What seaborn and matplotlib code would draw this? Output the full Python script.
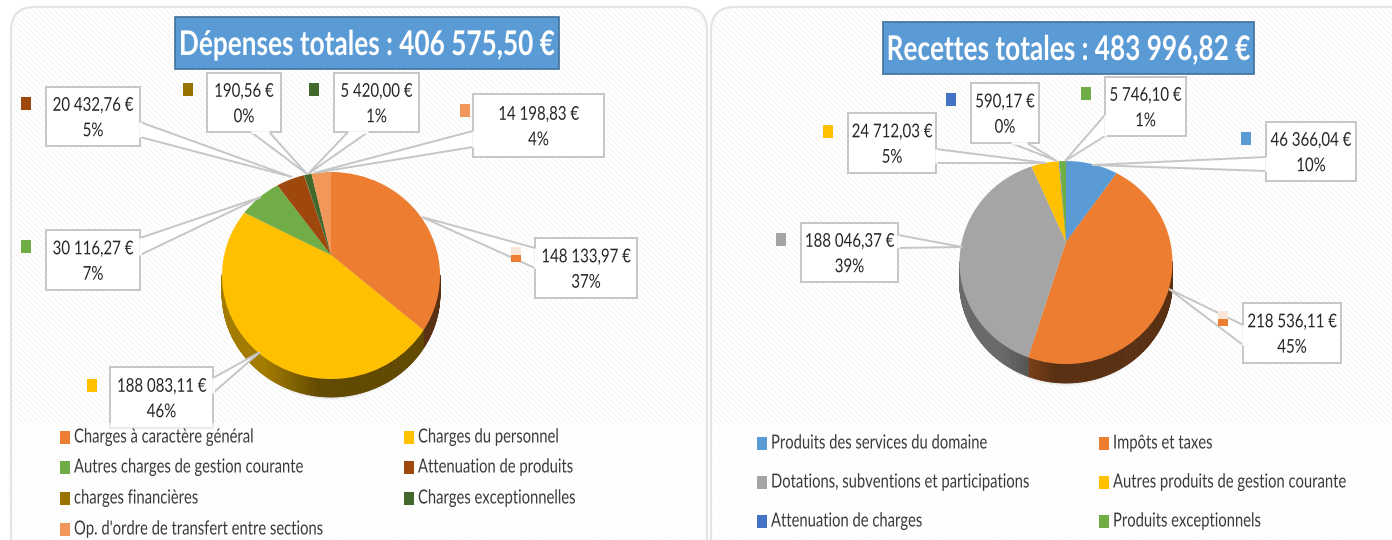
import numpy as np
import matplotlib
matplotlib.use("Agg")
import matplotlib.pyplot as plt
import seaborn as sns
from matplotlib.collections import PolyCollection
from matplotlib.patches import FancyBboxPatch, Polygon, Rectangle, Ellipse
from matplotlib.patheffects import AbstractPathEffect
from matplotlib.text import Text
from matplotlib.transforms import Affine2D, Bbox, Transform
from matplotlib.colors import to_rgb

# ---------- data ----------
dep_title = "Dépenses totales : 406 575,50 €"
dep_categories = ["Charges à caractère général", "Charges du personnel",
                  "Autres charges de gestion courante", "Attenuation de produits",
                  "charges financières", "Charges exceptionnelles",
                  "Op. d'ordre de transfert entre sections"]
dep_values = [148133.97, 188083.11, 30116.27, 20432.76, 190.56, 5420.00, 14198.83]
dep_percent = ["37%", "46%", "7%", "5%", "0%", "1%", "4%"]
dep_colors = ["#ED7D31", "#FFC000", "#70AD47", "#9E480E", "#997300", "#43682B", "#F1975A"]

rec_title = "Recettes totales : 483 996,82 €"
rec_categories = ["Produits des services du domaine", "Impôts et taxes",
                  "Dotations, subventions et participations", "Autres produits de gestion courante",
                  "Attenuation de charges", "Produits exceptionnels"]
rec_values = [46366.04, 218536.11, 188046.37, 24712.03, 590.17, 5746.10]
rec_percent = ["10%", "45%", "39%", "5%", "0%", "1%"]
rec_colors = ["#5B9BD5", "#ED7D31", "#A5A5A5", "#FFC000", "#4472C4", "#70AD47"]

# ---------- layout (pixels) ----------
W, H = 1392, 540
# box x0, x1, y0, y1 ; callout base a, base b, tip ; colour key position
dep_boxes = [
    ((535, 637, 238, 298), (535, 248), (535, 268), (422, 217), (516, 255)),
    ((110, 213, 367, 428), (213, 378), (213, 393), (260, 352), (92, 385)),
    ((46, 140, 230, 290), (140, 238), (140, 255), (261, 197), (26, 246)),
    ((46, 140, 87, 146), (140, 122), (140, 137), (292, 177), (26, 103)),
    ((207, 281, 73, 132), (251, 132), (269, 132), (307, 174), (188, 89)),
    ((334, 419, 73, 132), (348, 132), (368, 132), (308, 174), (314, 89)),
    ((473, 604, 94, 157), (473, 131), (473, 147), (314, 173), (465, 110)),
]
rec_boxes = [
    ((1266, 1356, 122, 181), (1266, 157), (1266, 171), (1092, 165), (1246, 138)),
    ((1243, 1341, 303, 363), (1243, 325), (1243, 345), (1169, 289), (1223, 319)),
    ((801, 898, 223, 282), (898, 235), (898, 248), (962, 247), (781, 239)),
    ((848, 936, 113, 173), (936, 149), (936, 163), (1046, 163), (828, 131)),
    ((971, 1039, 83, 143), (1011, 143), (1027, 143), (1057, 161), (951, 99)),
    ((1105, 1186, 77, 136), (1105, 115), (1105, 136), (1065, 161), (1086, 93)),
]
dep_pale_keys = [0]
rec_pale_keys = [1]

sns.set_theme(style="white")
plt.rcParams["font.family"] = ["Lato", "Open Sans", "DejaVu Sans"]
plt.rcParams["hatch.linewidth"] = 0.5
sns.set_palette(sns.color_palette(dep_colors))

fig = plt.figure(figsize=(W / 100, H / 100), dpi=100, facecolor="white")
ax = fig.add_axes([0, 0, 1, 1])


class Squeeze(AbstractPathEffect):
    """Narrows glyphs horizontally about a fixed pixel column."""

    def __init__(self, sx, anchor):
        super().__init__()
        self.m = Affine2D().translate(-anchor, 0).scale(sx, 1).translate(anchor, 0)

    def draw_path(self, renderer, gc, tpath, affine, rgbFace=None):
        renderer.draw_path(gc, tpath, affine + self.m, rgbFace)


class SqueezedText(Text):
    """Real text whose drawn width is a fraction of the font's natural width."""

    def __init__(self, x, y, s, sx, **kw):
        super().__init__(x, y, s, **kw)
        self.sx = sx
        self.anchor = x
        self.set_path_effects([Squeeze(sx, x)])

    def get_window_extent(self, renderer=None, dpi=None):
        b = super().get_window_extent(renderer, dpi)
        a, s = self.anchor, self.sx
        return Bbox([[a + (b.x0 - a) * s, b.y0], [a + (b.x1 - a) * s, b.y1]])


class PiePerspective(Transform):
    """Projects the flat unit pie to the tilted top face, in figure pixels."""
    input_dims = output_dims = 2
    has_inverse = False
    is_separable = False

    def __init__(self, cx, cy, up, down, rx):
        super().__init__()
        self.cx, self.cy = cx, cy
        self.k = (down - up) / (down + up)
        self.a = up * (1 + self.k)
        self.c = rx * np.sqrt(1 - self.k ** 2)

    def transform_non_affine(self, values):
        v = np.asarray(values, float)
        d = 1 + self.k * v[:, 1]
        return np.column_stack([self.cx + self.c * v[:, 0] / d,
                                self.cy - self.a * v[:, 1] / d])


def squeezed(x, y, s, sx, **kw):
    return ax.add_artist(SqueezedText(x, y, s, sx, **kw))


def panel(x0, x1, y0):
    kw = dict(boxstyle="round,pad=0,rounding_size=24")
    h = 600 - y0
    bg = FancyBboxPatch((x0, y0), x1 - x0, h, facecolor="white", edgecolor="#f0f0f0",
                        hatch="\\\\\\\\\\\\", lw=0, zorder=0, **kw)
    ax.add_patch(bg)
    veil = Rectangle((x0, 423), x1 - x0, H - 423, facecolor="white", alpha=.65, lw=0, zorder=8)
    ax.add_patch(veil)
    veil.set_clip_path(bg)
    ax.add_patch(FancyBboxPatch((x0, y0), x1 - x0, h, facecolor="none", edgecolor="#e4e4e4",
                                lw=1.6, zorder=9, **kw))


def pie3d(values, colors, cx, cy, up, down, rx, depth):
    proj = PiePerspective(cx, cy, up, down, rx)
    fracs = np.array(values) / np.sum(values)
    edges = np.concatenate([[0], np.cumsum(fracs)]) * 2 * np.pi
    # soft shadow below the pie
    ecy = cy + (down - up) / 2
    ery = (down + up) / 2
    for g, a in zip((3, 1.5, 0), (.05, .07, .10)):
        ax.add_patch(Ellipse((cx, ecy + depth + g), 2 * rx - 6, 2 * ery,
                             facecolor="#555555", alpha=a, lw=0, zorder=1))
    # extruded rim (front half only)
    polys, cols = [], []
    for i, c in enumerate(colors):
        n = max(2, int(np.ceil((edges[i + 1] - edges[i]) / 0.015)))
        th = np.linspace(edges[i], edges[i + 1], n + 1)
        pts = proj.transform_non_affine(np.column_stack([np.sin(th), np.cos(th)]))
        base = np.array(to_rgb(c))
        for j in range(n):
            p, q = pts[j], pts[j + 1]
            if max(p[1], q[1]) < ecy:
                continue
            polys.append([p, q, q + [0, depth], p + [0, depth]])
            t = np.clip((((p[0] - cx) / rx) + 0.1) / -0.5, 0, 1)
            cols.append(tuple(base * (0.38 + 0.26 * t)))
    ax.add_collection(PolyCollection(polys, facecolors=cols, edgecolors=cols, lw=.6, zorder=2))
    # top face
    wedges, _ = ax.pie(values, colors=colors, startangle=90, counterclock=False, frame=True,
                       wedgeprops=dict(lw=0, zorder=3))
    for w in wedges:
        w.set_transform(proj + ax.transData)
        w.set_zorder(3)
        w.set_clip_on(False)


def money(v):
    return f"{v:,.2f}".replace(",", " ").replace(".", ",") + " €"


def callouts(values, percents, colors, boxes, pale, fs=13.7, sx=.79):
    for i, (v, p, c, (b, a1, a2, tip, key)) in enumerate(zip(values, percents, colors, boxes)):
        x0, x1, y0, y1 = b
        ax.add_patch(Polygon([a1, tip, a2], closed=True, facecolor="white", edgecolor="#c6c6c6",
                             lw=1.4, zorder=4))
        ax.add_patch(Rectangle((x0, y0), x1 - x0, y1 - y0, facecolor="white", edgecolor="#c6c6c6",
                               lw=1.4, zorder=5))
        # patch over the join between the box and its callout
        ax.plot([a1[0], a2[0]], [a1[1], a2[1]], color="white", lw=1.8, zorder=5.5,
                solid_capstyle="butt")
        squeezed((x0 + x1) / 2, (y0 + y1) / 2 + 1.5, f"{money(v)}\n{p}", sx, ha="center", va="center",
                 fontsize=fs, color="#262626", linespacing=1.6, zorder=6)
        ax.add_patch(Rectangle((key[0] - 5, key[1] - 6.5), 10, 13, facecolor=c, lw=0, zorder=6))
        if i in pale:
            ax.add_patch(Rectangle((key[0] - 5, key[1] - 8), 10, 8, facecolor="#FBE5D6", lw=0, zorder=6))


def title(txt, x0, x1, y0, y1, fs=24.5, sx=.77):
    ax.add_patch(Rectangle((x0, y0), x1 - x0, y1 - y0, facecolor="#5B9BD5", edgecolor="#41719C",
                           lw=1.2, zorder=6))
    squeezed((x0 + x1) / 2, (y0 + y1) / 2 + 2, txt, sx, ha="center", va="center", color="white",
             fontsize=fs, fontweight="bold", zorder=7)


def legend(cats, colors, xs, ys, fs=14, sx=.76):
    renderer = fig.canvas.get_renderer()
    for i, (t, c) in enumerate(zip(cats, colors)):
        x, y = xs[i % 2], ys[i // 2]
        ax.add_patch(Rectangle((x, y - 6.5), 10, 13, facecolor=c, lw=0, zorder=10))
        # centre-anchored, so that the natural-width box stays in the figure too
        probe = ax.text(0, 0, t, fontsize=fs)
        natural = probe.get_window_extent(renderer).width
        probe.remove()
        squeezed(x + 14 + natural * sx / 2, y, t, sx, ha="center", va="center", fontsize=fs,
                 color="#3a3a3a", zorder=10)


panel(11, 707, 7)
panel(711, 1420, 7)

pie3d(dep_values, dep_colors, 331, 255, 83, 124, 109, 18)
pie3d(rec_values, rec_colors, 1066, 242, 81, 122, 106.5, 19)

callouts(dep_values, dep_percent, dep_colors, dep_boxes, dep_pale_keys)
callouts(rec_values, rec_percent, rec_colors, rec_boxes, rec_pale_keys)

title(dep_title, 175, 559, 17, 69)
title(rec_title, 883, 1254, 22, 74)

legend(dep_categories, dep_colors, (60, 404), (437, 467, 498, 529))
legend(rec_categories, rec_colors, (757, 1099), (443, 482, 521))

ax.set_aspect("auto")
ax.set_xlim(0, W)
ax.set_ylim(H, 0)
ax.axis("off")
fig.savefig("out.png", dpi=100, facecolor="white")
